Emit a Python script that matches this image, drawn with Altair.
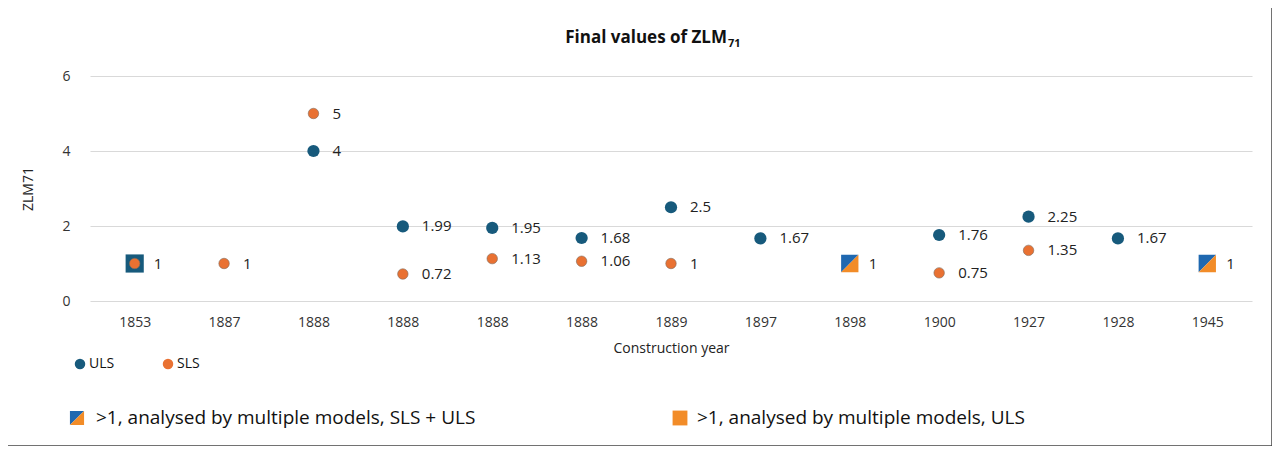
import pandas as pd
import altair as alt

years = ["1853", "1887", "1888", "1888", "1888", "1888", "1889", "1897", "1898", "1900", "1927", "1928", "1945"]
uls = [1, None, 4, 1.99, 1.95, 1.68, 2.5, 1.67, None, 1.76, 2.25, 1.67, None]
sls = [1, 1, 5, 0.72, 1.13, 1.06, 1, None, None, 0.75, 1.35, None, None]
# split squares (>1, analysed by multiple models, SLS + ULS)
split_idx = [8, 12]
split_val = [1, 1]
# 1853: ULS square
uls_square_idx = [0]
uls_square_val = [1]
uls_labels = ["1", "1", "4", "1.99", "1.95", "1.68", "2.5", "1.67", "1", "1.76", "2.25", "1.67", "1"]
sls_labels = ["", "", "5", "0.72", "1.13", "1.06", "1", "", "", "0.75", "1.35", "", ""]

BLUE = "#175a7c"
ORANGE = "#e97132"
SBLUE = "#1f68b0"
SORANGE = "#f28c28"
FONT = "Open Sans"
TRI_A = "M-1,-1L1,-1L-1,1Z"
TRI_B = "M1,-1L1,1L-1,1Z"

rows = []
for i in range(len(years)):
    rows.append({"i": i, "uls": uls[i], "sls": sls[i], "ul": uls_labels[i], "sl": sls_labels[i]})
df = pd.DataFrame(rows)
lab = df.copy()
lab["v"] = [uls[i] if uls[i] is not None else (sls[i] if sls[i] is not None else 1) for i in range(len(years))]
split_df = pd.DataFrame({"i": split_idx, "v": split_val})
sq_df = pd.DataFrame({"i": uls_square_idx, "v": uls_square_val})

label_expr = "[" + ",".join("'%s'" % y for y in years) + "][datum.value]"
x = alt.X("i:O", title="Construction year",
          axis=alt.Axis(labelExpr=label_expr, labelAngle=0, domain=False, ticks=False,
                        labelFontSize=14, labelColor="#333", labelPadding=14, titleFontSize=14,
                        titleFont=FONT, labelFont=FONT, titleFontWeight="normal", titlePadding=12,
                        titleColor="#222"),
          scale=alt.Scale(paddingInner=0, paddingOuter=0))
yscale = alt.Scale(domain=[0, 6])
yax = alt.Axis(values=[0, 1, 2, 3, 4, 5, 6], domain=False, ticks=False, grid=True, gridColor="#d9d9d9",
               labelFontSize=14, labelFont=FONT, labelColor="#333", labelPadding=20,
               titleFontSize=14, titleFont=FONT, titleFontWeight="normal", titleColor="#222", titlePadding=26)

base = alt.Chart(df)
sq = alt.Chart(sq_df).mark_point(shape="square", filled=True, size=330, color=BLUE, opacity=1).encode(
    x=x, y=alt.Y("v:Q", scale=yscale, axis=yax, title="ZLM71"))
pu = base.mark_circle(size=150, color=BLUE, opacity=1).encode(x=x, y=alt.Y("uls:Q", scale=yscale))
ps = base.mark_circle(size=110, color=ORANGE, opacity=1, stroke="#7f6a5a", strokeWidth=0.6).encode(
    x=x, y=alt.Y("sls:Q", scale=yscale))
spa = alt.Chart(split_df).mark_point(shape=TRI_A, filled=True, size=300, color=SBLUE, opacity=1).encode(
    x=x, y=alt.Y("v:Q", scale=yscale))
spb = alt.Chart(split_df).mark_point(shape=TRI_B, filled=True, size=300, color=SORANGE, opacity=1).encode(
    x=x, y=alt.Y("v:Q", scale=yscale))
tu = alt.Chart(lab).mark_text(align="left", dx=19, fontSize=15, font=FONT, color="#222").encode(
    x=x, y=alt.Y("v:Q", scale=yscale), text="ul:N")
ts = base.mark_text(align="left", dx=19, fontSize=15, font=FONT, color="#222").encode(
    x=x, y=alt.Y("sls:Q", scale=yscale), text="sl:N")

# title, legends and frame (pixel positions relative to plot origin)
def txt(s, px, py, size=15, weight="normal", align="left"):
    return alt.Chart(pd.DataFrame({"t": [s]})).mark_text(
        align=align, baseline="middle", fontSize=size, fontWeight=weight, font=FONT, color="#111"
    ).encode(x=alt.value(px), y=alt.value(py), text="t:N")

def dot(px, py, color, shape="circle", size=110):
    return alt.Chart(pd.DataFrame({"a": [0]})).mark_point(
        shape=shape, filled=True, size=size, color=color, opacity=1
    ).encode(x=alt.value(px), y=alt.value(py))

OX, OY = 90, 76
frame = alt.Chart(pd.DataFrame({"a": [0]})).mark_rect(fillOpacity=0, stroke="#444", strokeWidth=1.5).encode(
    x=alt.value(-OX + 1), x2=alt.value(1272 - OX), y=alt.value(-OY + 1), y2=alt.value(446 - OY))
extras = [
    txt("Final values of ZLM", 727 - OX, 38 - OY, 17, "bold", "right"),
    txt("71", 728 - OX, 44 - OY, 11, "bold"),
    dot(80 - OX, 364 - OY, BLUE), txt("ULS", 89 - OX, 364 - OY, 14),
    dot(168 - OX, 364 - OY, ORANGE), txt("SLS", 177 - OX, 364 - OY, 14),
    dot(77 - OX, 418 - OY, SBLUE, TRI_A, 200), dot(77 - OX, 418 - OY, SORANGE, TRI_B, 200),
    txt(">1, analysed by multiple models, SLS + ULS", 96 - OX, 418 - OY, 19),
    dot(680 - OX, 418 - OY, SORANGE, "square", 220),
    txt(">1, analysed by multiple models, ULS", 697 - OX, 418 - OY, 19),
]

chart = alt.layer(frame, sq, pu, ps, spa, spb, tu, ts, *extras).properties(
    width=1162, height=225, padding={"left": 82, "top": 68, "right": 20, "bottom": 145},
    autosize=alt.AutoSizeParams(type="none"),
).configure_view(stroke=None)

chart.save("out.html", embed_options={"renderer": "svg", "actions": False})
